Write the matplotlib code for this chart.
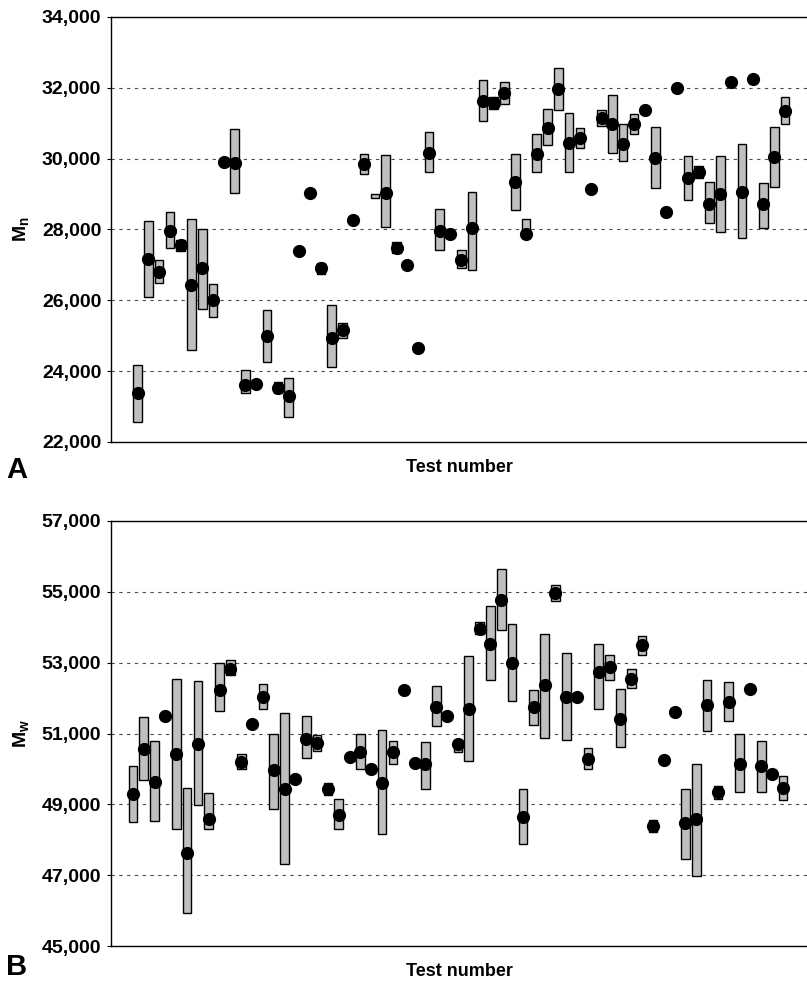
import numpy as np
import matplotlib
matplotlib.use('Agg')
import matplotlib.pyplot as plt
from matplotlib.ticker import StrMethodFormatter

nan = np.nan

# panel A: number average molecular weight (range bars + mean dots)
lo_a = [22560, 26080, 26480, 27490, 27400, 24590, 25750, 25520, nan, 29040,
        23380, nan, 24250, 23380, 22700, nan, nan, 26750, 24110, 24930,
        nan, 29580, 28900, 28080, 27340, nan, nan, 29610, 27410, nan,
        26900, 26870, 31050, 31400, 31550, 28560, 27770, 29610, 30390, 31380,
        29610, 30310, nan, 30930, 30170, 29940, 30700, nan, 29180, nan,
        nan, 28820, 29460, 28170, 27920, nan, 27750, nan, 28030, 29210, 30990]
hi_a = [24170, 28250, 27150, 28480, 27700, 28310, 28000, 26450, nan, 30850,
        24030, nan, 25720, 23680, 23800, nan, nan, 27050, 25860, 25350,
        nan, 30140, 29000, 30110, 27640, nan, nan, 30760, 28590, nan,
        27410, 29070, 32230, 31750, 32170, 30140, 28310, 30700, 31410, 32560,
        31300, 30870, nan, 31380, 31800, 30990, 31270, nan, 30900, nan,
        nan, 30080, 29780, 29350, 30080, nan, 30420, nan, 29320, 30900, 31750]
mean_a = [23380, 27180, 26790, 27970, 27550, 26420, 26900, 26000, 29900, 29890,
          23600, 23630, 24990, 23520, 23300, 27380, 29030, 26900, 24930, 25150,
          28280, 29860, nan, 29040, 27490, 27010, 24650, 30170, 27970, 27860,
          27150, 28030, 31630, 31580, 31860, 29350, 27860, 30140, 30870, 31970,
          30450, 30590, 29150, 31150, 30990, 30420, 30990, 31380, 30030, 28480,
          32000, 29440, 29610, 28730, 29010, 32170, 29070, 32250, 28730, 30060, 31350]
ticks_a = [22000, 24000, 26000, 28000, 30000, 32000, 34000]

# panel B: weight average molecular weight
lo_b = [48500, 49680, 48530, nan, 48300, 45920, 48980, 48300, 51640, 52650,
        50010, nan, 51690, 48870, 47320, nan, 50320, 50520, 49260, 48300,
        nan, 50010, nan, 48170, 50150, nan, nan, 49420, 51220, nan,
        50490, 50210, 53800, 52510, 53910, 51930, 47890, 51250, 50880, 54750,
        50830, nan, 49990, 51690, 52510, 50630, 52280, 53210, 48230, nan,
        nan, 47460, 46990, 51080, 49150, 51360, 49340, nan, 49340, nan, 49120]
hi_b = [50070, 51470, 50800, nan, 52540, 49450, 52480, 49310, 52980, 53070,
        50430, nan, 52390, 50990, 51580, nan, 51500, 50970, 49590, 49150,
        nan, 50990, nan, 51100, 50800, nan, nan, 50770, 52340, nan,
        50830, 53200, 54150, 54610, 55640, 54080, 49420, 52230, 53820, 55200,
        53260, nan, 50600, 53540, 53230, 52250, 52810, 53740, 48560, nan,
        nan, 49420, 50150, 52510, 49510, 52450, 50990, nan, 50800, nan, 49790]
mean_b = [49290, 50550, 49620, 51500, 50430, 47630, 50710, 48590, 52230, 52820,
          50200, 51280, 52030, 49960, 49420, 49710, 50850, 50740, 49420, 48700,
          50350, 50490, 50010, 49590, 50490, 52230, 50180, 50130, 51750, 51500,
          50690, 51690, 53960, 53540, 54780, 52980, 48640, 51750, 52370, 54970,
          52030, 52030, 50290, 52730, 52870, 51410, 52530, 53490, 48390, 50240,
          51610, 48470, 48590, 51810, 49340, 51890, 50150, 52250, 50090, 49850, 49450]
ticks_b = [45000, 47000, 49000, 51000, 53000, 55000, 57000]

tests = np.arange(1, 62)

plt.rcParams['font.family'] = ['Liberation Sans', 'DejaVu Sans']
plt.rcParams['font.weight'] = 'bold'
plt.rcParams['mathtext.fontset'] = 'custom'
plt.rcParams['mathtext.rm'] = 'Liberation Sans:bold'
plt.rcParams['mathtext.bf'] = 'Liberation Sans:bold'

fig = plt.figure(figsize=(8.07, 9.82), dpi=100)
ax_a = fig.add_axes([111/807, 1-442/982, 1-111/807, 425/982])
ax_b = fig.add_axes([111/807, 1-946/982, 1-111/807, 425/982])


def panel(ax, lo, hi, mean, ticks, xlim, ylabel):
    lo = np.array(lo, float)
    hi = np.array(hi, float)
    mean = np.array(mean, float)
    m = ~np.isnan(lo)
    ax.bar(tests[m], hi[m]-lo[m], bottom=lo[m], width=0.8,
           color='#bfbfbf', edgecolor='black', linewidth=1.0, zorder=3)
    k = ~np.isnan(mean)
    ax.plot(tests[k], mean[k], 'o', color='black', ms=8.5, zorder=4)
    ax.set_ylim(ticks[0], ticks[-1])
    ax.set_xlim(*xlim)
    ax.set_yticks(ticks)
    ax.yaxis.set_major_formatter(StrMethodFormatter('{x:,.0f}'))
    ax.yaxis.grid(True, linestyle=(0, (3, 4)), color='0.3', linewidth=0.8)
    ax.set_axisbelow(True)
    ax.set_xticks([])
    ax.tick_params(axis='y', length=3, width=0.8, labelsize=14, pad=4)
    for lab in ax.get_yticklabels():
        lab.set_fontweight('bold')
    ax.spines['right'].set_visible(False)
    for s in ['left', 'top', 'bottom']:
        ax.spines[s].set_linewidth(1.0)
    ax.set_ylabel(ylabel, fontsize=14, fontweight='bold', labelpad=8)
    ax.set_xlabel('Test number', fontsize=13, fontweight='bold', labelpad=12)


panel(ax_a, lo_a, hi_a, mean_a, ticks_a, (-1.46, 63.04), r'$\mathbf{M_n}$')
panel(ax_b, lo_b, hi_b, mean_b, ticks_b, (-1.03, 63.22), r'$\mathbf{M_w}$')

fig.text(0.008, 1-478/982, 'A', fontsize=21, fontweight='bold')
fig.text(0.008, 1-975/982, 'B', fontsize=21, fontweight='bold')

fig.savefig('out.png', dpi=100)
